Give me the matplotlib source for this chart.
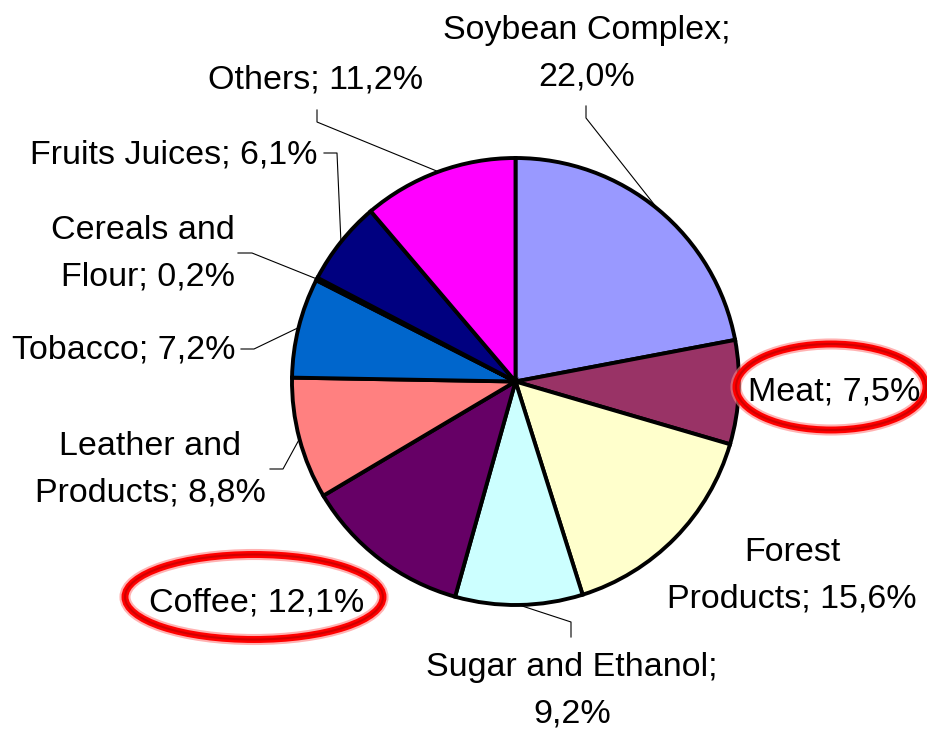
import numpy as np
import matplotlib
matplotlib.use("Agg")
import matplotlib.pyplot as plt
from matplotlib.patches import Ellipse

W, H = 927, 733

# data (clockwise from 12 o'clock)
categories = [
    "Soybean Complex", "Meat", "Forest Products", "Sugar and Ethanol", "Coffee",
    "Leather and Products", "Tobacco", "Cereals and Flour", "Fruits Juices", "Others",
]
shares = [22.0, 7.5, 15.6, 9.2, 12.1, 8.8, 7.2, 0.2, 6.1, 11.2]
colors = [
    "#9999FF", "#993366", "#FFFFCC", "#CCFFFF", "#660066",
    "#FF8080", "#0066CC", "#CCCCFF", "#000080", "#FF00FF",
]
label_text = [
    "Soybean Complex;\n22,0%", "Meat; 7,5%", "Forest\nProducts; 15,6%",
    "Sugar and Ethanol;\n9,2%", "Coffee; 12,1%", "Leather and\nProducts; 8,8%",
    "Tobacco; 7,2%", "Cereals and\nFlour; 0,2%", "Fruits Juices; 6,1%", "Others; 11,2%",
]
highlighted = ["Meat", "Coffee"]

# layout in pixel coords (y measured from top)
cx, cy, r = 515.5, 381.5, 223.5
label_pos = [
    (587, 54, "center"), (834, 392, "center"), (792, 576, "center"),
    (572, 691, "center"), (257, 603, "center"), (150, 470, "center"),
    (236, 350, "right"), (235, 254, "right"), (318, 155, "right"), (316, 80, "center"),
]
# leader line elbow points before the pie edge
leaders = {
    0: [(586, 106), (586, 118)],
    3: [(571, 637), (571, 622)],
    5: [(270, 469), (283, 469)],
    6: [(241, 349), (254, 349)],
    7: [(238, 253), (252, 253)],
    8: [(324, 153), (337, 153)],
    9: [(317, 110), (317, 122)],
}
ellipses = {1: (831, 387, 190, 86), 4: (254, 597, 258, 85)}


def Y(y):
    return H - y


plt.rcParams["font.family"] = ["Liberation Sans", "DejaVu Sans"]
fig = plt.figure(figsize=(W / 100, H / 100), dpi=100)
ax = fig.add_axes([0, 0, 1, 1])

ax.pie(
    shares, colors=colors, startangle=90, counterclock=False,
    center=(cx, Y(cy)), radius=r,
    wedgeprops=dict(edgecolor="black", linewidth=2.8),
)
ax.set_xlim(0, W)
ax.set_ylim(0, H)
ax.set_aspect("equal")
ax.axis("off")

total = sum(shares)
cum = np.cumsum([0] + shares)
for i, (name, txt) in enumerate(zip(categories, label_text)):
    x, y, ha = label_pos[i]
    ax.text(x, Y(y), txt, ha=ha, va="center", multialignment=ha,
            fontsize=24.5, linespacing=1.65, color="black", zorder=5)
    if i in leaders:
        mid = (cum[i] + shares[i] / 2) / total * 360
        ang = np.deg2rad(90 - mid)
        ex, ey = cx + r * np.cos(ang), cy - r * np.sin(ang)
        pts = leaders[i] + [(ex, ey)]
        ax.plot([p[0] for p in pts], [Y(p[1]) for p in pts],
                color="black", linewidth=0.8, zorder=4)
    if i in ellipses:
        ex, ey, ew, eh = ellipses[i]
        ax.add_patch(Ellipse((ex, Y(ey)), ew, eh, fill=False,
                             edgecolor="#FF8080", linewidth=8, alpha=0.6, zorder=3))
        ax.add_patch(Ellipse((ex, Y(ey)), ew, eh, fill=False,
                             edgecolor="#FF0000", linewidth=5, zorder=3))
        ax.add_patch(Ellipse((ex, Y(ey)), ew, eh, fill=False,
                             edgecolor="#D00000", linewidth=1.5, zorder=3))

fig.savefig("out.png", dpi=100)
